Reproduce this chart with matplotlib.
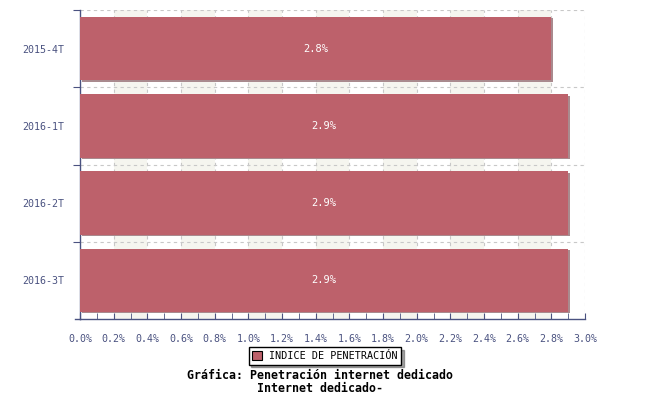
import matplotlib
matplotlib.use("Agg")
import matplotlib.pyplot as plt
import matplotlib.patches as mpatches
from matplotlib.lines import Line2D
import numpy as np

categories = ["2015-4T", "2016-1T", "2016-2T", "2016-3T"]
values = [2.8, 2.9, 2.9, 2.9]
value_labels = ["2.8%", "2.9%", "2.9%", "2.9%"]
xticks = [0.0, 0.2, 0.4, 0.6, 0.8, 1.0, 1.2, 1.4, 1.6, 1.8, 2.0, 2.2, 2.4, 2.6, 2.8, 3.0]
series_name = "INDICE DE PENETRACIÓN"
title1 = "Gráfica: Penetración internet dedicado"
title2 = "Internet dedicado-"

bar_color = "#bd616b"
axis_color = "#4a5280"
mono = "DejaVu Sans Mono"

fig = plt.figure(figsize=(6.5, 4.0), dpi=100)
ax = fig.add_axes([80/650, 1-319/400, 505/650, 309/400])
ax.set_xlim(0, 3.0)
n = len(categories)
ax.set_ylim(n - 0.5, -0.5)

# alternating column bands
for i in range(len(xticks) - 1):
    if i % 2 == 1:
        ax.axvspan(xticks[i], xticks[i+1], color="#f5f5ef", zorder=0, lw=0)

# grid
for xv in xticks[1:]:
    ax.axvline(xv, color="#c8c8c8", lw=0.8, ls=(0, (3, 3)), zorder=1)
for yb in np.arange(-0.5, n - 0.5, 1.0):
    ax.axhline(yb, color="#c8c8c8", lw=0.8, ls=(0, (3, 3)), zorder=1)

ypos = np.arange(n)
h = 0.82
# shadow
ax.barh(ypos + 0.018, values, height=h, left=0.009, color="#a98a8e", zorder=2, lw=0)
ax.barh(ypos, values, height=h, color=bar_color, zorder=3, lw=0)
for y, v, lab in zip(ypos, values, value_labels):
    ax.text(v / 2, y, lab, color="white", ha="center", va="center",
            fontsize=7.5, family=mono, zorder=4)

# axes styling
for s in ["top", "right"]:
    ax.spines[s].set_visible(False)
ax.spines["left"].set_color(axis_color)
ax.spines["bottom"].set_color(axis_color)
ax.spines["left"].set_linewidth(1.0)
ax.spines["bottom"].set_linewidth(1.0)
# bottom axis line extends slightly left
fig.add_artist(Line2D([75/650, 80/650], [1-319/400, 1-319/400], color=axis_color, lw=1.0))

ax.set_xticks(xticks)
ax.set_xticklabels([f"{t:.1f}%" for t in xticks], family=mono, fontsize=7.2, color=axis_color)
ax.set_xticks(np.arange(0.1, 3.0, 0.2), minor=True)
ax.tick_params(axis="x", which="both", direction="in", length=4, color=axis_color, pad=11)

ax.set_yticks(np.arange(-0.5, n - 0.5, 1.0))
ax.set_yticklabels([])
ax.set_yticks(ypos, minor=True)
ax.set_yticklabels(categories, minor=True, family=mono, fontsize=7.2, color=axis_color)
ax.tick_params(axis="y", which="major", direction="out", length=5, color=axis_color)
ax.tick_params(axis="y", which="minor", length=0, pad=11)

# legend
handle = mpatches.Patch(facecolor=bar_color, edgecolor="black", lw=0.8, label=series_name)
leg = fig.legend(handles=[handle], loc="center", bbox_to_anchor=(325/650, 1-356/400),
                 frameon=True, fancybox=False, shadow=True, prop={"family": mono, "size": 7.3},
                 handlelength=1.0, handleheight=1.0, borderpad=0.35, handletextpad=0.7,
                 borderaxespad=0)
leg.get_frame().set_edgecolor("black")
leg.get_frame().set_linewidth(1.0)

fig.text(320/650, 1-375.5/400, title1, ha="center", va="center", family=mono,
         fontsize=8.4, fontweight="bold", zorder=5)
fig.text(320/650, 1-389/400, title2, ha="center", va="center", family=mono,
         fontsize=8.4, fontweight="bold", zorder=5)

fig.savefig("out.png", dpi=100)
